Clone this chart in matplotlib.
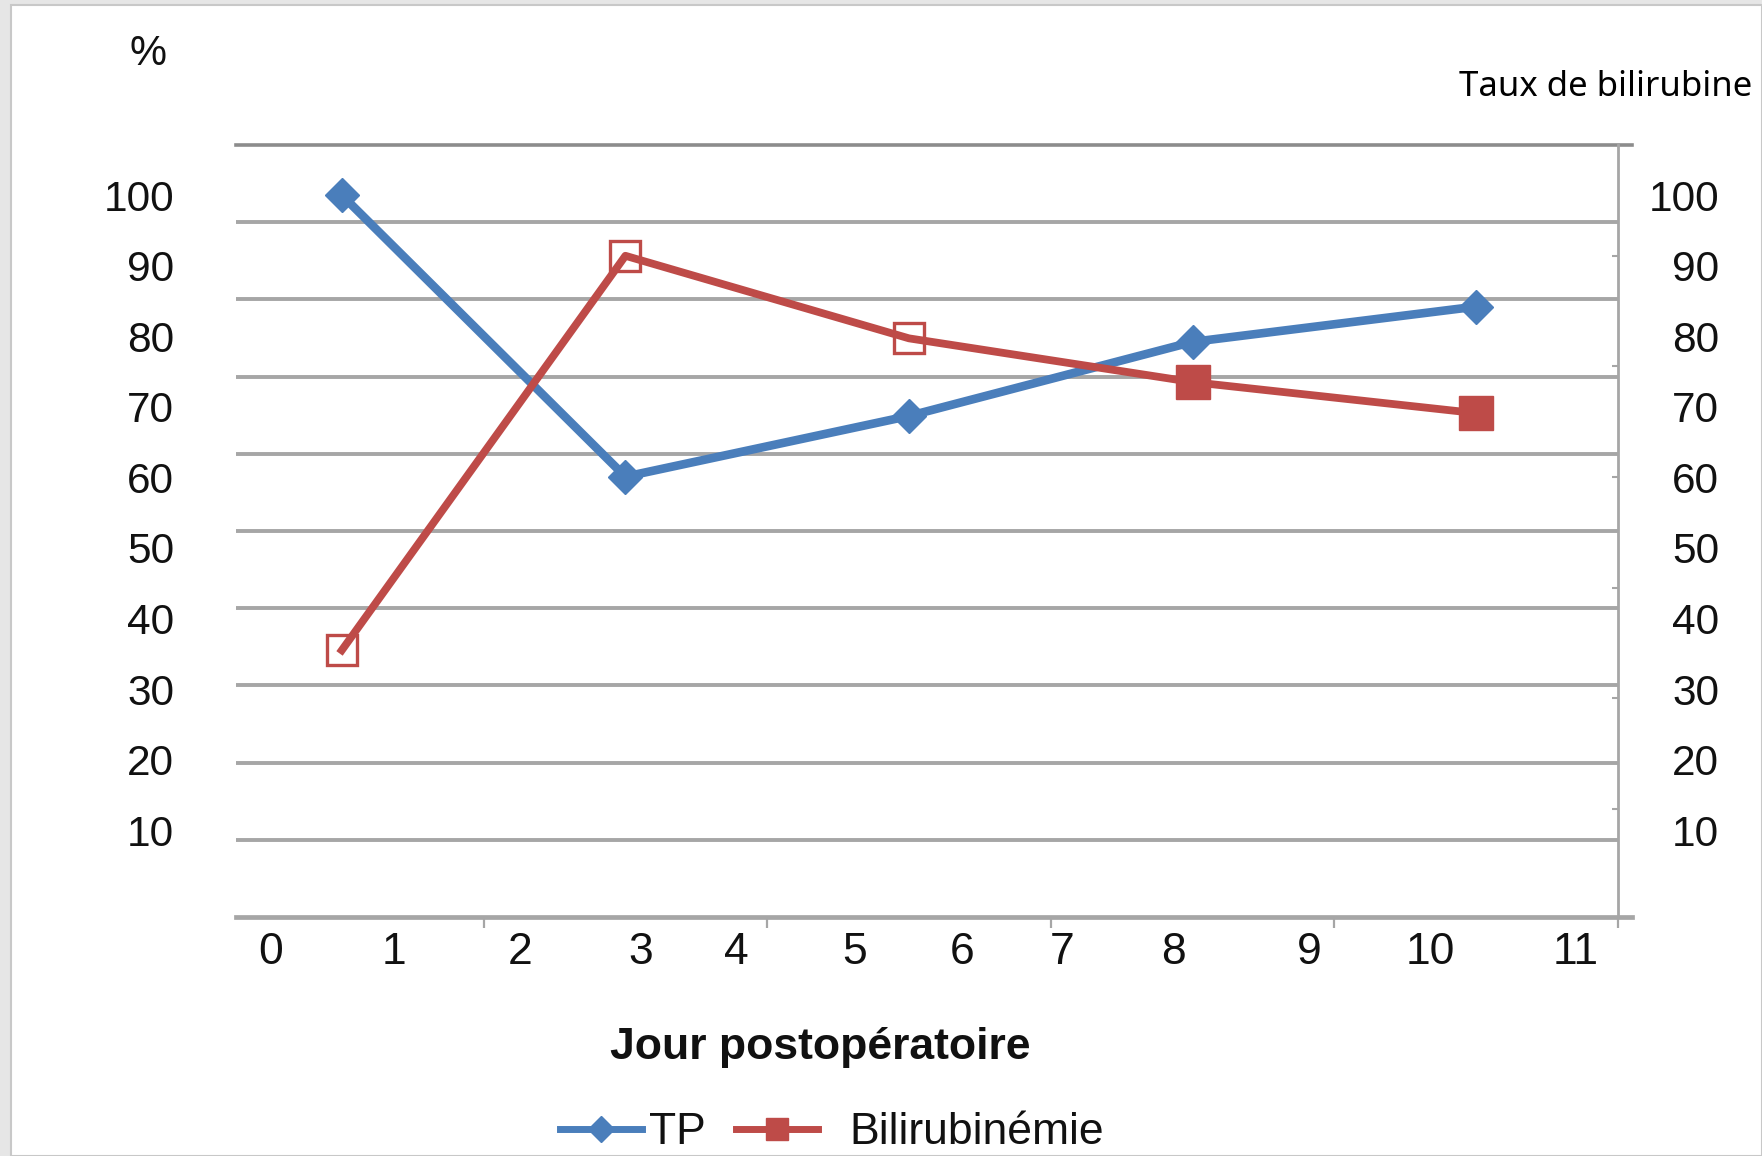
import matplotlib
matplotlib.use("Agg")
import matplotlib.pyplot as plt
from matplotlib.lines import Line2D
from matplotlib.patches import Rectangle
import numpy as np

plt.rcParams["font.family"] = ["Liberation Sans", "DejaVu Sans"]

# values, on the printed 10..100 scale
TP = [100, 60.1, 68.7, 79.2, 84.2]
BILI = [35.5, 91.4, 79.7, 73.5, 69.1]
BILI_OPEN = [True, True, True, False, False]
SERIES = ["TP", "Bilirubinémie"]
Y_TICKS = [10, 20, 30, 40, 50, 60, 70, 80, 90, 100]
X_LABELS = ["0", "1", "2", "3", "4", "5", "6", "7", "8", "9", "10", "11"]

# layout (pixel positions in the 1762x1156 picture)
W, H = 1762, 1156
X_LABEL_PX = [271, 394, 520, 641, 736, 855, 962, 1062, 1173, 1309, 1430, 1576]
BLUE = "#4A7EBB"
RED = "#BE4B48"
GRID = "#A6A6A6"
TXT = "#111111"


def fx(x):
    return x / W


def fy(y):
    return 1 - y / H


fig = plt.figure(figsize=(W / 100, H / 100), dpi=100, facecolor="#E6E6E6")
fig.patches.append(Rectangle((fx(11), 0), 1 - fx(11), fy(5), transform=fig.transFigure,
                             facecolor="white", edgecolor="#C8C8C8", lw=1.5, zorder=-1))

top, bot = 145, 917
# background grid (it is offset from the data area in the original)
bg = fig.add_axes([fx(236), fy(bot), fx(1618) - fx(236), (bot - top) / H])
bg.set_xlim(0, 1)
bg.set_ylim(0, 100)
bg.set_yticks(np.arange(10, 100, 10))
bg.grid(axis="y", color=GRID, lw=2.8)
bg.tick_params(length=0, labelleft=False, labelbottom=False)
for s in bg.spines.values():
    s.set_visible(False)
bg.patch.set_alpha(0)
ext = (1632 - 236) / (1618 - 236)
bg.axhline(100, 0, ext, color="#8C8C8C", lw=2.6, clip_on=False)
bg.axhline(0, 0, ext, color=GRID, lw=3.4, clip_on=False)

ax = fig.add_axes([fx(200), fy(bot), fx(1618) - fx(200), (bot - top) / H])
ax.patch.set_alpha(0)
ax.set_zorder(2)
x = np.arange(len(TP))
ax.plot(x, TP, color=BLUE, lw=6.2, marker="D", ms=17, mfc=BLUE, mec=BLUE, zorder=3)
ax.plot(x, BILI, color=RED, lw=5.6, zorder=4)
is_open = np.array(BILI_OPEN)
bili = np.array(BILI)
ax.plot(x[is_open], bili[is_open], ls="none", marker="s", ms=22, mfc="none",
        mec=RED, mew=2.4, zorder=5)
ax.plot(x[~is_open], bili[~is_open], ls="none", marker="s", ms=24, mfc=RED,
        mec=RED, zorder=5)

ax.set_xlim(-0.5, len(TP) - 0.5)
ax.set_ylim(-2.3, 107.1)
ax.set_xticks(x + 0.5)
ax.tick_params(axis="x", length=8, width=1.6, color=GRID, labelbottom=False)
ax.set_yticks(Y_TICKS, [str(v) for v in Y_TICKS])
ax.tick_params(axis="y", length=0, labelsize=30.5, labelcolor=TXT, pad=18.7)
for s in ax.spines.values():
    s.set_visible(False)

right = ax.secondary_yaxis("right")
right.set_yticks(Y_TICKS, [str(v) for v in Y_TICKS])
right.tick_params(length=0, labelsize=30.5, labelcolor=TXT, pad=72.7)
right.spines["right"].set_visible(False)
for t in right.get_yticklabels():
    t.set_ha("right")

ax2 = ax.twinx()
ax2.set_ylim(0.026, 7)
ax2.set_yticks([1, 2, 3, 4, 5, 6])
ax2.tick_params(axis="y", direction="in", length=4, width=1.5, color=GRID, labelright=False)
for k in ["top", "left", "bottom"]:
    ax2.spines[k].set_visible(False)
ax2.spines["right"].set_color(GRID)
ax2.spines["right"].set_linewidth(2)

fig.text(fx(148), fy(54), "%", ha="center", va="center", fontsize=30, color=TXT)
fig.text(fx(1752), fy(87), "Taux de bilirubine", ha="right", va="center", fontsize=25,
         color="black", family=["Noto Sans", "DejaVu Sans"])
for lab, px in zip(X_LABELS, X_LABEL_PX):
    fig.text(fx(px), fy(952), lab, ha="center", va="center", fontsize=32, color=TXT,
             family=["Liberation Sans Narrow", "Liberation Sans", "DejaVu Sans"])
fig.text(fx(820), fy(1047), "Jour postopératoire", ha="center", va="center",
         fontsize=32, fontweight="bold", color=TXT)

# two single-entry legends: the gaps between marker and text differ in the original
handles = [Line2D([], [], color=BLUE, lw=5, marker="D", ms=13),
           Line2D([], [], color=RED, lw=5, marker="s", ms=16)]
common = dict(loc="center left", frameon=False, fontsize=32, handlelength=1.85,
              borderpad=0, borderaxespad=0, labelcolor=TXT)
fig.legend(handles[:1], SERIES[:1], bbox_to_anchor=(fx(560), fy(1133)),
           handletextpad=0.15, **common)
fig.legend(handles[1:], SERIES[1:], bbox_to_anchor=(fx(736), fy(1133)),
           handletextpad=0.7, **common)

fig.savefig("out.png", dpi=100, facecolor=fig.get_facecolor())
